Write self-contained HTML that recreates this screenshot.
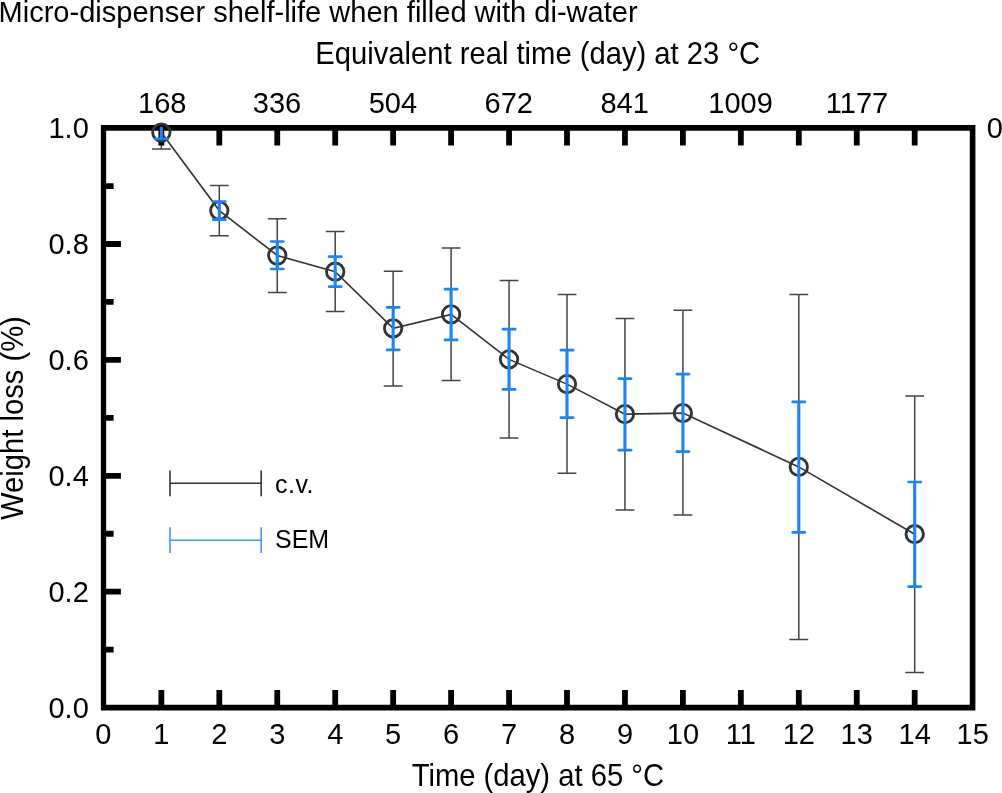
<!DOCTYPE html>
<html lang="en"><head><meta charset="utf-8"><title>Micro-dispenser shelf-life when filled with di-water</title>
<style>html,body{margin:0;padding:0;background:#fff}body{width:1002px;height:793px;overflow:hidden}svg{display:block}text{font-family:"Liberation Sans",Arial,Helvetica,sans-serif;fill:#000}.t{font-size:29px}.l{font-size:29.2px}.h{font-size:29.05px}.g{font-size:25px}</style></head><body>
<svg width="1002" height="793" viewBox="0 0 1002 793">
<rect width="1002" height="793" fill="#fff"/>
<text class="h" transform="translate(-1.50 21.60) scale(1 1.04)">Micro-dispenser shelf-life when filled with di-water</text>
<text class="l" transform="translate(315.30 64.10) scale(1 1.06)">Equivalent real time (day) at 23 °C</text>
<text class="l" transform="translate(411.70 786.30) scale(1 1.06)">Time (day) at 65 °C</text>
<text class="l" transform="translate(23.00 520.00) rotate(-90) scale(1 1.06)">Weight loss (%)</text>
<g stroke="#444" stroke-width="1.5" fill="none">
<path d="M161.35 128.10V148.90M151.95 148.90h18.8"/>
<path d="M219.30 185.40V235.80M209.90 185.40h18.8M209.90 235.80h18.8"/>
<path d="M277.25 218.80V292.40M267.85 218.80h18.8M267.85 292.40h18.8"/>
<path d="M335.20 231.50V311.40M325.80 231.50h18.8M325.80 311.40h18.8"/>
<path d="M393.15 271.20V386.10M383.75 271.20h18.8M383.75 386.10h18.8"/>
<path d="M451.10 248.00V380.40M441.70 248.00h18.8M441.70 380.40h18.8"/>
<path d="M509.05 280.50V438.10M499.65 280.50h18.8M499.65 438.10h18.8"/>
<path d="M567.00 294.50V473.20M557.60 294.50h18.8M557.60 473.20h18.8"/>
<path d="M624.95 318.50V509.90M615.55 318.50h18.8M615.55 509.90h18.8"/>
<path d="M682.90 310.20V515.10M673.50 310.20h18.8M673.50 515.10h18.8"/>
<path d="M798.80 294.50V639.40M789.40 294.50h18.8M789.40 639.40h18.8"/>
<path d="M914.70 395.90V672.40M905.30 395.90h18.8M905.30 672.40h18.8"/>
</g>
<g stroke="#000" stroke-width="5.8" fill="none">
<path d="M161.35 707.60v-17.5M161.35 128.10v17.5M219.30 707.60v-17.5M219.30 128.10v17.5M277.25 707.60v-17.5M277.25 128.10v17.5M335.20 707.60v-17.5M335.20 128.10v17.5M393.15 707.60v-17.5M393.15 128.10v17.5M451.10 707.60v-17.5M451.10 128.10v17.5M509.05 707.60v-17.5M509.05 128.10v17.5M567.00 707.60v-17.5M567.00 128.10v17.5M624.95 707.60v-17.5M624.95 128.10v17.5M682.90 707.60v-17.5M682.90 128.10v17.5M740.85 707.60v-17.5M740.85 128.10v17.5M798.80 707.60v-17.5M798.80 128.10v17.5M856.75 707.60v-17.5M856.75 128.10v17.5M914.70 707.60v-17.5M914.70 128.10v17.5M103.40 649.65h10.2M103.40 591.70h17.5M103.40 533.75h10.2M103.40 475.80h17.5M103.40 417.85h10.2M103.40 359.90h17.5M103.40 301.95h10.2M103.40 244.00h17.5M103.40 186.05h10.2"/>
<path stroke="none" fill="#000" fill-rule="evenodd" d="M100.9 124.9H975.4V710.4H100.9ZM106.15 130.8V704.7H969.8V130.8Z"/>
</g>
<polyline fill="none" stroke="#333" stroke-width="1.6" points="161.35,132.50 219.30,210.60 277.25,255.50 335.20,271.70 393.15,328.30 451.10,314.40 509.05,359.40 567.00,384.10 624.95,414.10 682.90,413.10 798.80,466.90 914.70,534.20"/>
<g stroke="#333" stroke-width="2.85" fill="none">
<circle cx="161.35" cy="132.50" r="8.7"/>
<circle cx="219.30" cy="210.60" r="8.7"/>
<circle cx="277.25" cy="255.50" r="8.7"/>
<circle cx="335.20" cy="271.70" r="8.7"/>
<circle cx="393.15" cy="328.30" r="8.7"/>
<circle cx="451.10" cy="314.40" r="8.7"/>
<circle cx="509.05" cy="359.40" r="8.7"/>
<circle cx="567.00" cy="384.10" r="8.7"/>
<circle cx="624.95" cy="414.10" r="8.7"/>
<circle cx="682.90" cy="413.10" r="8.7"/>
<circle cx="798.80" cy="466.90" r="8.7"/>
<circle cx="914.70" cy="534.20" r="8.7"/>
</g>
<g stroke="#1884ff" stroke-width="3.1" fill="none">
<path d="M161.35 128.00V138.90" stroke-linecap="round"/>
<path d="M155.25 138.90h12.2" stroke-width="2.7" stroke-linecap="round"/>
<path d="M219.30 201.50V219.60"/>
<path d="M213.20 201.50h12.2M213.20 219.60h12.2" stroke-width="2.7" stroke-linecap="round"/>
<path d="M277.25 241.50V269.00"/>
<path d="M271.15 241.50h12.2M271.15 269.00h12.2" stroke-width="2.7" stroke-linecap="round"/>
<path d="M335.20 256.70V286.70"/>
<path d="M329.10 256.70h12.2M329.10 286.70h12.2" stroke-width="2.7" stroke-linecap="round"/>
<path d="M393.15 307.40V349.90"/>
<path d="M387.05 307.40h12.2M387.05 349.90h12.2" stroke-width="2.7" stroke-linecap="round"/>
<path d="M451.10 289.20V339.90"/>
<path d="M445.00 289.20h12.2M445.00 339.90h12.2" stroke-width="2.7" stroke-linecap="round"/>
<path d="M509.05 329.20V389.40"/>
<path d="M502.95 329.20h12.2M502.95 389.40h12.2" stroke-width="2.7" stroke-linecap="round"/>
<path d="M567.00 350.20V417.70"/>
<path d="M560.90 350.20h12.2M560.90 417.70h12.2" stroke-width="2.7" stroke-linecap="round"/>
<path d="M624.95 378.60V450.20"/>
<path d="M618.85 378.60h12.2M618.85 450.20h12.2" stroke-width="2.7" stroke-linecap="round"/>
<path d="M682.90 374.10V451.60"/>
<path d="M676.80 374.10h12.2M676.80 451.60h12.2" stroke-width="2.7" stroke-linecap="round"/>
<path d="M798.80 401.90V532.40"/>
<path d="M792.70 401.90h12.2M792.70 532.40h12.2" stroke-width="2.7" stroke-linecap="round"/>
<path d="M914.70 482.00V586.60"/>
<path d="M908.60 482.00h12.2M908.60 586.60h12.2" stroke-width="2.7" stroke-linecap="round"/>
</g>
<path d="M170 483.3H261.2M170 470.6V496.3M261.2 470.6V496.3" stroke="#333" stroke-width="1.6" fill="none"/>
<path d="M170 540.2H261.2M170 527.3V552.9M261.2 527.3V552.9" stroke="#3b9bff" stroke-width="1.6" fill="none"/>
<text letter-spacing="0.5" class="g" transform="translate(275.00 492.60) scale(1 1.04)">c.v.</text>
<text class="g" transform="translate(275.00 547.60) scale(1 1.04)">SEM</text>
<text class="t" text-anchor="middle" transform="translate(103.40 744.30) scale(1 1.04)">0</text>
<text class="t" text-anchor="middle" transform="translate(161.35 744.30) scale(1 1.04)">1</text>
<text class="t" text-anchor="middle" transform="translate(219.30 744.30) scale(1 1.04)">2</text>
<text class="t" text-anchor="middle" transform="translate(277.25 744.30) scale(1 1.04)">3</text>
<text class="t" text-anchor="middle" transform="translate(335.20 744.30) scale(1 1.04)">4</text>
<text class="t" text-anchor="middle" transform="translate(393.15 744.30) scale(1 1.04)">5</text>
<text class="t" text-anchor="middle" transform="translate(451.10 744.30) scale(1 1.04)">6</text>
<text class="t" text-anchor="middle" transform="translate(509.05 744.30) scale(1 1.04)">7</text>
<text class="t" text-anchor="middle" transform="translate(567.00 744.30) scale(1 1.04)">8</text>
<text class="t" text-anchor="middle" transform="translate(624.95 744.30) scale(1 1.04)">9</text>
<text class="t" text-anchor="middle" transform="translate(682.90 744.30) scale(1 1.04)">10</text>
<text class="t" text-anchor="middle" transform="translate(740.85 744.30) scale(1 1.04)">11</text>
<text class="t" text-anchor="middle" transform="translate(798.80 744.30) scale(1 1.04)">12</text>
<text class="t" text-anchor="middle" transform="translate(856.75 744.30) scale(1 1.04)">13</text>
<text class="t" text-anchor="middle" transform="translate(914.70 744.30) scale(1 1.04)">14</text>
<text class="t" text-anchor="middle" transform="translate(972.65 744.30) scale(1 1.04)">15</text>
<text class="t" text-anchor="middle" transform="translate(162.25 112.50) scale(1 1.04)">168</text>
<text class="t" text-anchor="middle" transform="translate(276.95 112.50) scale(1 1.04)">336</text>
<text class="t" text-anchor="middle" transform="translate(392.85 112.50) scale(1 1.04)">504</text>
<text class="t" text-anchor="middle" transform="translate(508.75 112.50) scale(1 1.04)">672</text>
<text class="t" text-anchor="middle" transform="translate(624.65 112.50) scale(1 1.04)">841</text>
<text class="t" text-anchor="middle" transform="translate(740.55 112.50) scale(1 1.04)">1009</text>
<text class="t" text-anchor="middle" transform="translate(856.95 112.50) scale(1 1.04)">1177</text>
<text class="t" text-anchor="end" transform="translate(88.80 717.80) scale(1 1.04)">0.0</text>
<text class="t" text-anchor="end" transform="translate(88.80 601.90) scale(1 1.04)">0.2</text>
<text class="t" text-anchor="end" transform="translate(88.80 486.00) scale(1 1.04)">0.4</text>
<text class="t" text-anchor="end" transform="translate(88.80 370.10) scale(1 1.04)">0.6</text>
<text class="t" text-anchor="end" transform="translate(88.80 254.20) scale(1 1.04)">0.8</text>
<text class="t" text-anchor="end" transform="translate(88.80 138.30) scale(1 1.04)">1.0</text>
<text class="t" transform="translate(986.80 137.80) scale(1 1.04)">0</text>
</svg></body></html>
